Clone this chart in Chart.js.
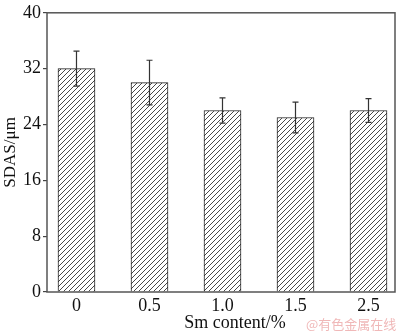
<!DOCTYPE html>
<html>
<head>
<meta charset="utf-8">
<script src="https://cdn.jsdelivr.net/npm/chart.js@4/dist/chart.umd.min.js"></script>
<style>
  html, body { margin: 0; padding: 0; background: #fff; }
  #wrap { position: relative; width: 400px; height: 332px; }
  #mark { position: absolute; left: 306px; top: 314px; font: 13px "Noto Sans CJK SC", sans-serif; color: #f0b8b8; }
</style>
</head>
<body>
<div id="wrap">
  <canvas id="chart" width="400" height="332"></canvas>
  <div id="mark">@有色金属在线</div>
</div>
<script>
const smContent = ["0", "0.5", "1.0", "1.5", "2.5"];
const sdas = [32, 30, 26, 25, 26];
const sdasErr = [2.5, 3.2, 1.8, 2.2, 1.7];
const yTicks = [0, 8, 16, 24, 32, 40];
const xTitle = "Sm content/%";

const serif = "'Liberation Serif', 'Times New Roman', serif";
const ink = "#111";

// diagonal /// hatch fill
function hatch() {
  const s = 5;
  const c = document.createElement("canvas");
  c.width = s; c.height = s;
  const g = c.getContext("2d");
  g.fillStyle = "#fff";
  g.fillRect(0, 0, s, s);
  g.strokeStyle = "#333";
  g.lineWidth = 0.9;
  g.beginPath();
  g.moveTo(-1, s + 1); g.lineTo(s + 1, -1);
  g.moveTo(-1, 1); g.lineTo(1, -1);
  g.moveTo(s - 1, s + 1); g.lineTo(s + 1, s - 1);
  g.stroke();
  return g.createPattern(c, "repeat");
}

const errorBars = {
  id: "errorBars",
  afterDatasetsDraw(chart) {
    const ctx = chart.ctx;
    const y = chart.scales.y;
    const meta = chart.getDatasetMeta(0);
    ctx.save();
    ctx.strokeStyle = "#333";
    ctx.lineWidth = 1.2;
    meta.data.forEach((bar, i) => {
      const top = y.getPixelForValue(sdas[i] + sdasErr[i]);
      const bot = y.getPixelForValue(sdas[i] - sdasErr[i]);
      ctx.beginPath();
      ctx.moveTo(bar.x, top); ctx.lineTo(bar.x, bot);
      ctx.moveTo(bar.x - 3, top); ctx.lineTo(bar.x + 3, top);
      ctx.moveTo(bar.x - 3, bot); ctx.lineTo(bar.x + 3, bot);
      ctx.stroke();
    });
    ctx.restore();
  }
};

// plot box plus the x title, which sits a little right of centre
const frame = {
  id: "frame",
  afterDraw(chart) {
    const a = chart.chartArea;
    const ctx = chart.ctx;
    ctx.save();
    ctx.strokeStyle = "#555";
    ctx.lineWidth = 1.5;
    ctx.strokeRect(a.left, a.top, a.right - a.left, a.bottom - a.top);
    ctx.fillStyle = ink;
    ctx.font = "18px " + serif;
    ctx.textAlign = "center";
    ctx.textBaseline = "middle";
    ctx.fillText(xTitle, (a.left + a.right) / 2 + 14, a.bottom + 31);
    ctx.restore();
  }
};

new Chart(document.getElementById("chart"), {
  type: "bar",
  data: {
    datasets: [{
      data: sdas.map((v, i) => ({ x: i, y: v })),
      backgroundColor: hatch(),
      borderColor: "#222",
      borderWidth: 1,
      barThickness: 37,
    }],
  },
  options: {
    responsive: false,
    animation: false,
    layout: { padding: { top: 5, right: 5, left: 0, bottom: 0 } },
    plugins: { legend: { display: false }, tooltip: { enabled: false } },
    scales: {
      x: {
        type: "linear",
        offset: false,
        min: -0.404,
        max: 4.363,
        grid: { display: false, drawTicks: false },
        border: { display: false },
        afterBuildTicks: (s) => { s.ticks = smContent.map((_, i) => ({ value: i })); },
        ticks: {
          callback: (v) => smContent[v],
          color: ink,
          font: { family: serif, size: 18 },
          padding: 3,
          maxRotation: 0,
        },
        afterFit: (s) => { s.height = 40; },
      },
      y: {
        min: 0,
        max: 40,
        afterBuildTicks: (s) => { s.ticks = yTicks.map((v) => ({ value: v })); },
        grid: { drawOnChartArea: false, tickLength: 4, color: "#444", lineWidth: 1.2 },
        border: { display: false },
        ticks: {
          color: ink,
          font: { family: serif, size: 18 },
          padding: 2,
        },
        title: {
          display: true,
          text: "SDAS/μm",
          color: ink,
          font: { family: serif, size: 17 },
          padding: { top: 0, bottom: 0 },
        },
        afterFit: (s) => { s.width = 47; },
      },
    },
  },
  plugins: [errorBars, frame],
});
</script>
</body>
</html>
